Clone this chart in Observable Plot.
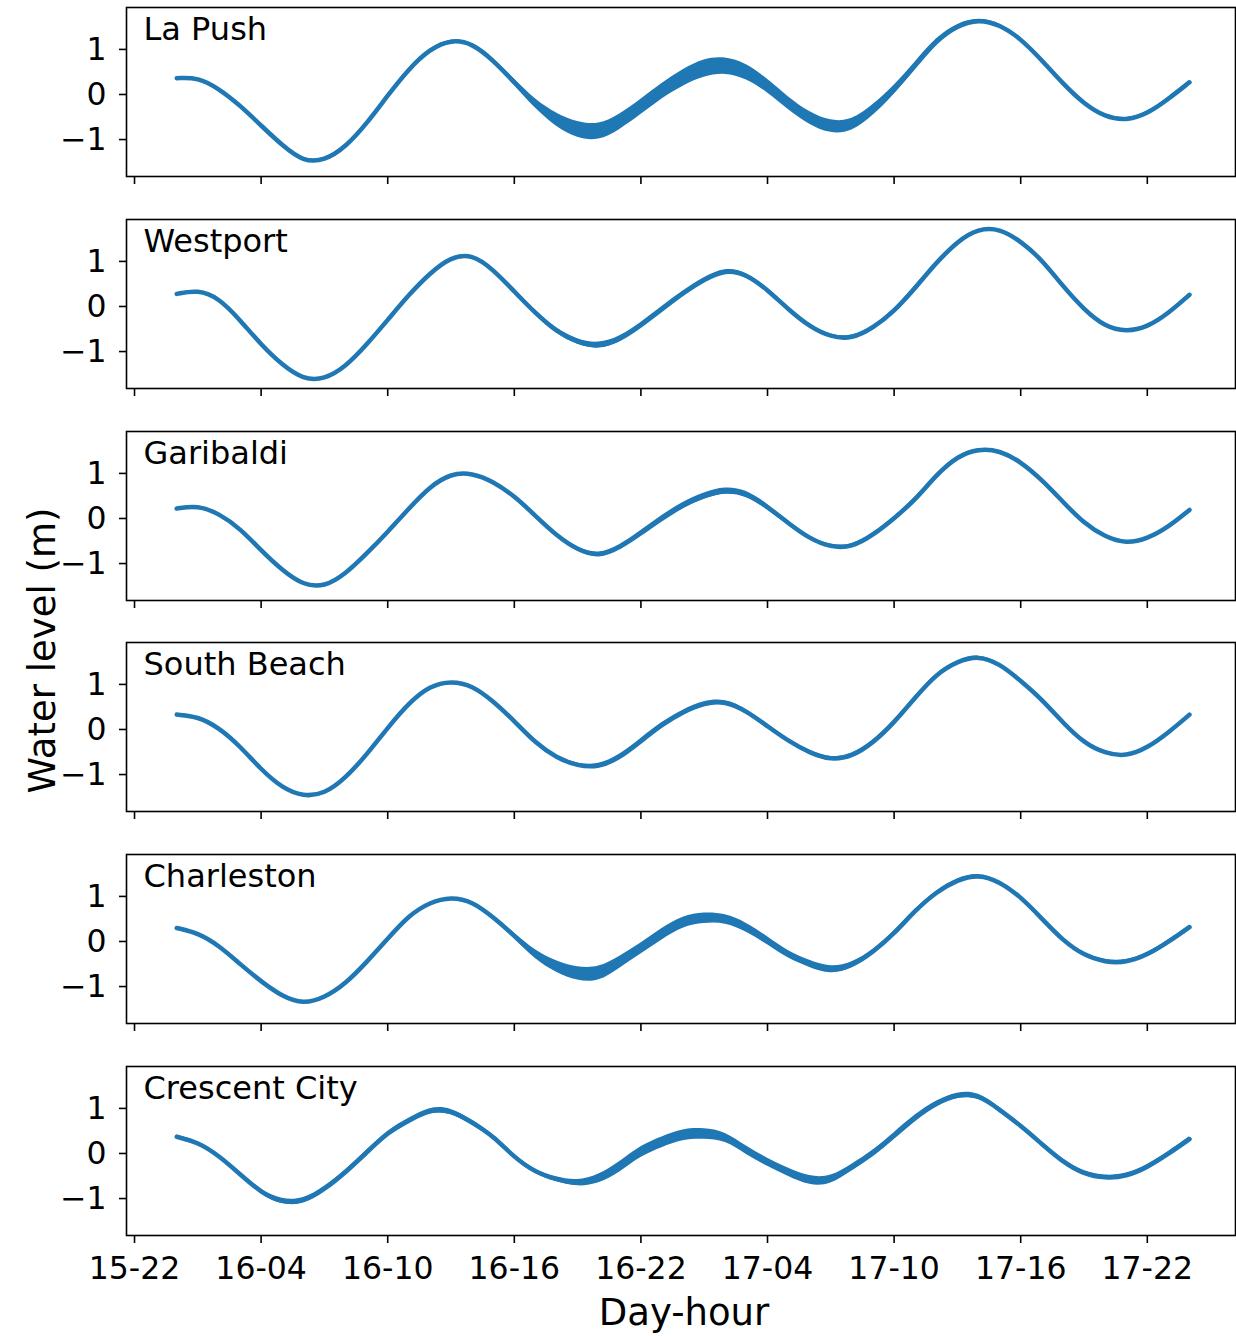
<!DOCTYPE html>
<html><head><meta charset="utf-8">
<script src="https://cdn.jsdelivr.net/npm/d3@7"></script>
<script src="https://cdn.jsdelivr.net/npm/@observablehq/plot@0.6"></script>
<style>
html,body{margin:0;padding:0;background:#fff;overflow:hidden;}
#chart{position:relative;width:1236px;height:1336px;font-family:"DejaVu Sans",sans-serif;color:#000;}
#chart .panel{position:absolute;left:0;}
#chart .panel svg{background:transparent;}
.ylab{position:absolute;width:400px;height:37px;line-height:37px;font-size:37px;text-align:center;transform:rotate(-90deg);}
.xlab{position:absolute;width:400px;height:37px;line-height:37px;font-size:37px;text-align:center;}
</style></head><body><div id="chart"></div>
<script>
// ---- data: hours since day 15 00:00 (24 = 16-00 ... 72 = 18-00) ----
const stations = ["La Push","Westport","Garibaldi","South Beach","Charleston","Crescent City"];
const hours = [24,25,26,27,28,29,30,31,32,33,34,35,36,37,38,39,40,41,42,43,44,45,46,47,48,
  49,50,51,52,53,54,55,56,57,58,59,60,61,62,63,64,65,66,67,68,69,70,71,72];
const tickHours = [22,28,34,40,46,52,58,64,70];
const tickLabels = ["15-22","16-04","16-10","16-16","16-22","17-04","17-10","17-16","17-22"];
const yTicks = [-1,0,1];

const laPush = [0.36,0.38,0.13,-0.24,-0.69,-1.13,-1.49,-1.47,-1.17,-0.65,-0.02,0.57,1.01,1.22,1.14,0.76,0.27,-0.22,-0.58,-0.80,-0.86,-0.62,-0.28,0.08,0.38,
  0.60,0.66,0.52,0.20,-0.21,-0.54,-0.74,-0.71,-0.36,0.09,0.64,1.20,1.53,1.67,1.55,1.24,0.76,0.24,-0.21,-0.50,-0.58,-0.43,-0.10,0.27];
const westport = [0.28,0.37,0.19,-0.30,-0.85,-1.30,-1.62,-1.62,-1.34,-0.85,-0.30,0.26,0.74,1.10,1.16,0.82,0.33,-0.15,-0.56,-0.80,-0.90,-0.74,-0.42,-0.06,0.30,
  0.60,0.82,0.72,0.37,-0.07,-0.45,-0.68,-0.72,-0.48,-0.11,0.41,0.97,1.45,1.73,1.73,1.45,1.04,0.45,-0.07,-0.45,-0.56,-0.46,-0.15,0.26];
const garibaldi = [0.22,0.29,0.11,-0.22,-0.71,-1.15,-1.48,-1.52,-1.23,-0.78,-0.30,0.22,0.71,1.00,1.01,0.82,0.50,0.06,-0.38,-0.70,-0.85,-0.65,-0.33,0.00,0.30,
  0.51,0.64,0.57,0.26,-0.11,-0.45,-0.64,-0.64,-0.37,0.00,0.41,0.97,1.38,1.55,1.51,1.26,0.86,0.37,-0.11,-0.41,-0.56,-0.45,-0.19,0.19];
const southBeach = [0.33,0.29,0.04,-0.37,-0.89,-1.30,-1.49,-1.43,-1.08,-0.56,0.04,0.59,0.97,1.08,0.98,0.63,0.19,-0.30,-0.63,-0.81,-0.84,-0.63,-0.26,0.11,0.39,
  0.59,0.63,0.41,0.07,-0.26,-0.52,-0.68,-0.60,-0.30,0.15,0.71,1.23,1.51,1.64,1.46,1.08,0.67,0.15,-0.30,-0.53,-0.60,-0.41,-0.07,0.33];
const charleston = [0.30,0.19,-0.09,-0.50,-0.89,-1.22,-1.39,-1.25,-0.94,-0.46,0.06,0.58,0.87,0.99,0.89,0.54,0.13,-0.31,-0.57,-0.73,-0.75,-0.46,-0.16,0.17,0.45,
  0.53,0.52,0.32,0.02,-0.31,-0.50,-0.66,-0.55,-0.24,0.17,0.69,1.10,1.37,1.49,1.33,0.99,0.51,0.02,-0.31,-0.46,-0.47,-0.30,-0.01,0.32];
const crescentCity = [0.37,0.25,-0.05,-0.46,-0.87,-1.09,-1.08,-0.80,-0.42,0.02,0.47,0.73,0.98,0.96,0.69,0.39,-0.09,-0.42,-0.58,-0.68,-0.58,-0.31,0.06,0.25,0.43,
  0.44,0.39,0.06,-0.20,-0.42,-0.62,-0.62,-0.31,-0.01,0.39,0.80,1.12,1.31,1.31,0.97,0.62,0.21,-0.19,-0.46,-0.55,-0.51,-0.31,-0.01,0.32];

// half-width of the high-frequency oscillation band (m)
const laPushNoise = [0.03,0.03,0.03,0.03,0.03,0.03,0.03,0.03,0.03,0.03,0.03,0.03,0.03,0.03,0.03,0.05,0.07,0.10,0.15,0.18,0.18,0.17,0.17,0.17,0.18,
  0.20,0.18,0.17,0.15,0.14,0.14,0.14,0.13,0.12,0.10,0.08,0.07,0.05,0.04,0.04,0.04,0.03,0.03,0.03,0.03,0.03,0.03,0.04,0.04];
const westportNoise = [0.02,0.02,0.02,0.02,0.02,0.02,0.02,0.02,0.02,0.02,0.02,0.02,0.02,0.02,0.02,0.03,0.04,0.05,0.06,0.06,0.07,0.06,0.06,0.06,0.05,
  0.05,0.05,0.05,0.05,0.04,0.04,0.04,0.04,0.04,0.04,0.05,0.05,0.03,0.03,0.02,0.02,0.02,0.02,0.02,0.02,0.02,0.02,0.03,0.03];
const garibaldiNoise = [0.02,0.02,0.02,0.02,0.02,0.02,0.02,0.02,0.02,0.02,0.02,0.02,0.02,0.02,0.02,0.02,0.02,0.03,0.04,0.04,0.05,0.05,0.06,0.07,0.07,
  0.07,0.07,0.07,0.06,0.05,0.04,0.04,0.04,0.04,0.04,0.04,0.04,0.04,0.03,0.02,0.02,0.02,0.02,0.02,0.02,0.02,0.02,0.02,0.02];
const southBeachNoise = [0.02,0.02,0.02,0.02,0.02,0.02,0.02,0.02,0.02,0.02,0.02,0.02,0.02,0.02,0.02,0.02,0.02,0.03,0.04,0.04,0.05,0.06,0.06,0.06,0.05,
  0.05,0.05,0.05,0.05,0.04,0.04,0.04,0.04,0.04,0.04,0.04,0.04,0.04,0.04,0.03,0.02,0.02,0.02,0.02,0.02,0.02,0.02,0.02,0.02];
const charlestonNoise = [0.02,0.02,0.02,0.02,0.02,0.02,0.02,0.02,0.02,0.02,0.02,0.02,0.02,0.02,0.02,0.04,0.06,0.10,0.13,0.15,0.16,0.13,0.12,0.13,0.12,
  0.12,0.10,0.10,0.09,0.08,0.08,0.08,0.07,0.05,0.05,0.04,0.04,0.04,0.04,0.04,0.04,0.04,0.04,0.04,0.04,0.04,0.04,0.04,0.04];
const crescentCityNoise = [0.04,0.04,0.04,0.04,0.05,0.06,0.06,0.06,0.05,0.05,0.05,0.05,0.06,0.06,0.06,0.05,0.05,0.05,0.05,0.07,0.10,0.12,0.12,0.12,0.12,
  0.12,0.10,0.09,0.09,0.09,0.10,0.09,0.07,0.07,0.07,0.07,0.06,0.06,0.06,0.05,0.05,0.05,0.05,0.05,0.05,0.05,0.05,0.05,0.05];

const levels = [laPush, westport, garibaldi, southBeach, charleston, crescentCity];
const noise = [laPushNoise, westportNoise, garibaldiNoise, southBeachNoise, charlestonNoise, crescentCityNoise];

// ---- drawing ----
const color = "#1f77b4";
const chart = document.getElementById("chart");
const frameH = 169;
const minusFmt = d => d < 0 ? "\u2212" + Math.abs(d) : String(d);

stations.forEach((name, i) => {
  const last = i === stations.length - 1;
  const mt = 7, mb = last ? 62 : 22;
  const frameTop = Math.round(7 + i * 211.8);
  const data = hours.map((h, j) => ({h, v: levels[i][j], a: noise[i][j]}));
  const plot = Plot.plot({
    width: 1236, height: mt + frameH + mb,
    marginTop: mt, marginBottom: mb, marginLeft: 126, marginRight: 1,
    style: {fontFamily: "DejaVu Sans", fontSize: "31px", color: "#000", background: "transparent", overflow: "visible"},
    x: {domain: [21.62, 74.18]},
    y: {domain: [-1.82, 1.93]},
    marks: [
      Plot.areaY(data, {x: "h", y1: d => d.v - d.a, y2: d => d.v + d.a, fill: color, curve: "basis"}),
      Plot.line(data, {x: "h", y: "v", stroke: color, strokeWidth: 4.5, curve: "basis"}),
      Plot.frame({stroke: "#000", strokeWidth: 1.6}),
      Plot.axisY({ticks: yTicks, tickSize: 7, tickPadding: 13, tickFormat: minusFmt, label: null,
        fontSize: 31.5, stroke: "#000", strokeWidth: 1.6, fill: "#000"}),
      Plot.axisX({ticks: tickHours, tickSize: 8, tickPadding: 13,
        tickFormat: last ? (d => tickLabels[tickHours.indexOf(d)]) : (() => ""),
        label: null, fontSize: 31.5, stroke: "#000", strokeWidth: 1.6, fill: "#000"}),
      Plot.text([name], {frameAnchor: "top-left", dx: 17, dy: 10, lineAnchor: "top", textAnchor: "start",
        text: d => d, fontSize: 32, fill: "#000"})
    ]
  });
  const wrap = document.createElement("div");
  wrap.className = "panel";
  wrap.style.top = (frameTop - mt) + "px";
  wrap.appendChild(plot);
  chart.appendChild(wrap);
});

const ylab = document.createElement("div");
ylab.className = "ylab";
ylab.textContent = "Water level (m)";
ylab.style.left = (42 - 200) + "px";
ylab.style.top = (650 - 18.5) + "px";
chart.appendChild(ylab);

const xlab = document.createElement("div");
xlab.className = "xlab";
xlab.textContent = "Day-hour";
xlab.style.left = (684 - 200) + "px";
xlab.style.top = (1312 - 18.5) + "px";
chart.appendChild(xlab);
</script>
</body></html>
